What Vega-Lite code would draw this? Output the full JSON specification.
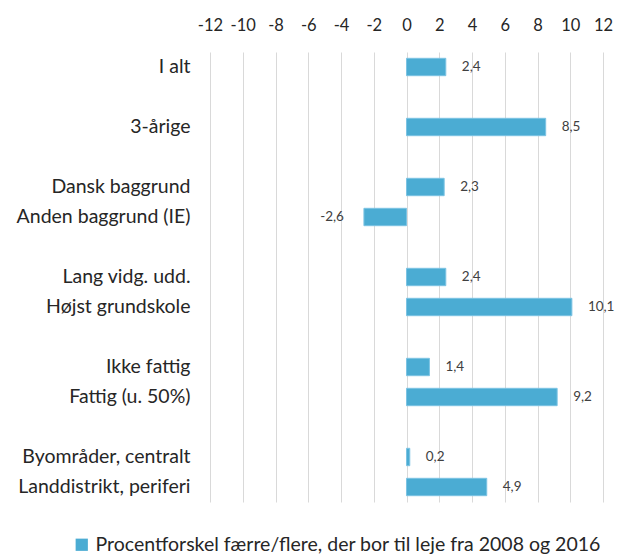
{
  "$schema": "https://vega.github.io/schema/vega-lite/v6.json",
  "autosize": "none",
  "width": 393,
  "height": 450,
  "padding": {"left": 210, "top": 52, "right": 14, "bottom": 55},
  "config": {
    "locale": {"number": {"decimal": ",", "thousands": ".", "grouping": [3], "currency": ["", " kr."], "minus": "-"}},
    "font": "Lato",
    "view": {"stroke": null}
  },
  "data": {"values": [
    {"kategori": "I alt", "v": 2.4, "serie": "Procentforskel færre/flere, der bor til leje fra 2008 og 2016"},
    {"kategori": "3-årige", "v": 8.5, "serie": "Procentforskel færre/flere, der bor til leje fra 2008 og 2016"},
    {"kategori": "Dansk baggrund", "v": 2.3, "serie": "Procentforskel færre/flere, der bor til leje fra 2008 og 2016"},
    {"kategori": "Anden baggrund (IE)", "v": -2.6, "serie": "Procentforskel færre/flere, der bor til leje fra 2008 og 2016"},
    {"kategori": "Lang vidg. udd.", "v": 2.4, "serie": "Procentforskel færre/flere, der bor til leje fra 2008 og 2016"},
    {"kategori": "Højst grundskole", "v": 10.1, "serie": "Procentforskel færre/flere, der bor til leje fra 2008 og 2016"},
    {"kategori": "Ikke fattig", "v": 1.4, "serie": "Procentforskel færre/flere, der bor til leje fra 2008 og 2016"},
    {"kategori": "Fattig (u. 50%)", "v": 9.2, "serie": "Procentforskel færre/flere, der bor til leje fra 2008 og 2016"},
    {"kategori": "Byområder, centralt", "v": 0.2, "serie": "Procentforskel færre/flere, der bor til leje fra 2008 og 2016"},
    {"kategori": "Landdistrikt, periferi", "v": 4.9, "serie": "Procentforskel færre/flere, der bor til leje fra 2008 og 2016"}
  ]},
  "encoding": {
    "y": {
      "field": "kategori", "type": "nominal",
      "scale": {"domain": ["I alt", " ", "3-årige", "  ", "Dansk baggrund", "Anden baggrund (IE)", "   ", "Lang vidg. udd.", "Højst grundskole", "    ", "Ikke fattig", "Fattig (u. 50%)", "     ", "Byområder, centralt", "Landdistrikt, periferi"], "paddingInner": 0.42, "paddingOuter": 0.21},
      "axis": {"title": null, "domain": false, "ticks": false, "labelPadding": 20, "labelFontSize": 19.5, "labelColor": "#262626", "labelLimit": 250}
    },
    "x": {
      "field": "v", "type": "quantitative",
      "scale": {"domain": [-12, 12], "nice": false},
      "axis": {"orient": "top", "title": null, "values": [-12, -10, -8, -6, -4, -2, 0, 2, 4, 6, 8, 10, 12], "format": "d", "labelOverlap": false, "labelFlush": false, "labelBound": false, "domain": false, "ticks": false, "labelPadding": 19, "labelFontSize": 16.5, "labelColor": "#262626", "gridColor": "#D9D9D9", "gridWidth": 1}
    }
  },
  "layer": [
    {
      "mark": {"type": "bar", "stroke": "#7CC3E3", "strokeWidth": 1},
      "encoding": {
        "color": {"field": "serie", "type": "nominal", "scale": {"range": ["#4BACD3"]},
          "legend": {"title": null, "orient": "none", "legendX": -138, "legendY": 483, "symbolType": "square", "symbolSize": 150, "symbolStrokeWidth": 0, "labelFontSize": 19.5, "labelColor": "#262626", "labelOffset": 4, "labelLimit": 700}}
      }
    },
    {
      "mark": {"type": "text", "fontSize": 13.5, "color": "#404040", "align": {"expr": "datum.v < 0 ? 'right' : 'left'"}, "dx": {"expr": "datum.v < 0 ? -20 : 16"}},
      "encoding": {"text": {"field": "v", "type": "quantitative", "format": ".1f"}}
    }
  ]
}
